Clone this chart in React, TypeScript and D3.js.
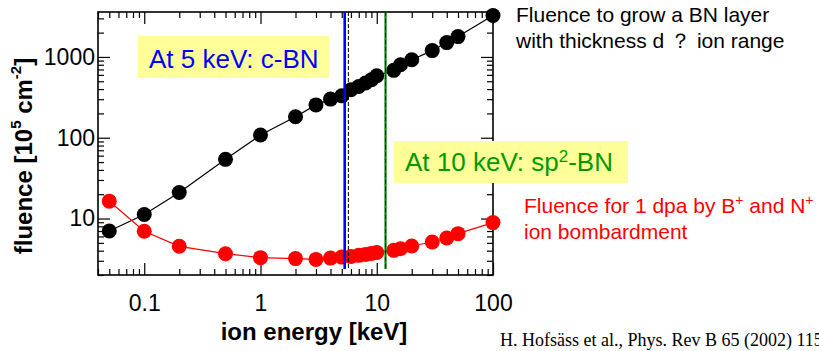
import React, { useEffect, useRef } from 'react';
import * as d3 from 'd3';

// ion energy [keV] of each calculated point
const energies = [0.05, 0.1, 0.2, 0.5, 1, 2, 3, 4, 5, 6, 7, 8, 9, 10, 14, 16, 20, 30, 40, 50, 100];
// fluence needed to grow a layer as thick as the ion range
const growFluence = [7.0, 11.2, 21.0, 54, 108, 182, 255, 301, 330, 393, 431, 475, 522, 586, 682, 802, 925, 1198, 1506, 1786, 3256];
// fluence for 1 dpa
const dpaFluence = [16.4, 6.95, 4.53, 3.67, 3.28, 3.19, 3.12, 3.24, 3.33, 3.4, 3.5, 3.6, 3.7, 3.8, 4.04, 4.24, 4.57, 5.12, 5.74, 6.5, 8.9];

const xMajorTicks = [0.1, 1, 10, 100];
const yMajorTicks = [10, 100, 1000];
const xDomain = [0.04, 100];
const yDomain = [2, 3600];

// vertical marker lines (keV)
const cbnEnergy = 5.3;
const cbnDashed = 5.7;
const spEnergy = 11.9;

const SANS = 'Liberation Sans, Arial, sans-serif';

const Chart = () => {
  const ref = useRef<SVGSVGElement>(null);

  useEffect(() => {
    const margin = { top: 12, left: 98 };
    const w = 395;
    const h = 263;

    const svg = d3.select(ref.current);
    svg.selectAll('*').remove();
    const g = svg.append('g').attr('transform', `translate(${margin.left},${margin.top})`);

    const x = d3.scaleLog().domain(xDomain).range([0, w]);
    const y = d3.scaleLog().domain(yDomain).range([h, 0]);

    const xMinor = x.ticks().filter(t => !xMajorTicks.includes(t));
    const yMinor = y.ticks().filter(t => !yMajorTicks.includes(t));

    const clean = (sel: any) => {
      sel.select('.domain').remove();
      sel.selectAll('line').attr('stroke', '#000').attr('stroke-width', 1.2);
      sel.selectAll('text')
        .attr('font-family', SANS)
        .attr('font-size', 23)
        .attr('fill', '#000');
    };
    const noLabel = () => '';

    // bottom
    g.append('g').attr('transform', `translate(0,${h})`)
      .call(d3.axisBottom(x).tickValues(xMinor).tickSize(-6).tickFormat(noLabel)).call(clean);
    g.append('g').attr('transform', `translate(0,${h})`)
      .call(d3.axisBottom(x).tickValues(xMajorTicks).tickSize(-12).tickPadding(20).tickFormat(d3.format('~g')))
      .call(clean);
    // top
    g.append('g').call(d3.axisTop(x).tickValues(xMinor).tickSize(-6).tickFormat(noLabel)).call(clean);
    g.append('g').call(d3.axisTop(x).tickValues(xMajorTicks).tickSize(-12).tickFormat(noLabel)).call(clean);
    // left
    g.append('g').call(d3.axisLeft(y).tickValues(yMinor).tickSize(-6).tickFormat(noLabel)).call(clean);
    g.append('g')
      .call(d3.axisLeft(y).tickValues(yMajorTicks).tickSize(-12).tickPadding(3).tickFormat(d3.format('~g')))
      .call(clean);
    // right
    g.append('g').attr('transform', `translate(${w},0)`)
      .call(d3.axisRight(y).tickValues(yMinor).tickSize(-6).tickFormat(noLabel)).call(clean);
    g.append('g').attr('transform', `translate(${w},0)`)
      .call(d3.axisRight(y).tickValues(yMajorTicks).tickSize(-12).tickFormat(noLabel)).call(clean);

    g.append('rect')
      .attr('width', w).attr('height', h)
      .attr('fill', 'none').attr('stroke', '#000').attr('stroke-width', 1.6);

    // series
    const series = [
      { values: growFluence, color: '#000' },
      { values: dpaFluence, color: '#ff0000' },
    ];
    series.forEach(s => {
      const pts = energies.map((e, i) => [e, s.values[i]] as [number, number]);
      g.append('path')
        .datum(pts)
        .attr('d', d3.line().x(d => x(d[0])).y(d => y(d[1])))
        .attr('fill', 'none')
        .attr('stroke', s.color)
        .attr('stroke-width', 1.2);
      g.selectAll(null)
        .data(pts)
        .enter().append('circle')
        .attr('cx', d => x(d[0]))
        .attr('cy', d => y(d[1]))
        .attr('r', 7.5)
        .attr('fill', s.color);
    });

    // vertical marker lines
    const lineBottom = h - 6;
    g.append('line')
      .attr('x1', x(cbnEnergy)).attr('x2', x(cbnEnergy))
      .attr('y1', 0).attr('y2', lineBottom)
      .attr('stroke', '#0000ff').attr('stroke-width', 2.6);
    g.append('line')
      .attr('x1', x(cbnDashed)).attr('x2', x(cbnDashed))
      .attr('y1', 0).attr('y2', lineBottom)
      .attr('stroke', '#000').attr('stroke-width', 1).attr('stroke-dasharray', '4,2');
    g.append('line')
      .attr('x1', x(spEnergy)).attr('x2', x(spEnergy))
      .attr('y1', 0).attr('y2', lineBottom)
      .attr('stroke', '#008000').attr('stroke-width', 2.2);
    g.append('line')
      .attr('x1', x(spEnergy)).attr('x2', x(spEnergy))
      .attr('y1', 0).attr('y2', lineBottom)
      .attr('stroke', '#003300').attr('stroke-width', 1).attr('stroke-dasharray', '4,3');
  }, []);

  return (
    <svg
      ref={ref}
      width={819}
      height={351}
      style={{ position: 'absolute', left: 0, top: 0, background: '#fff' }}
    />
  );
};

const Overlay = () => (
  <svg width={819} height={351} style={{ position: 'absolute', left: 0, top: 0, pointerEvents: 'none' }}>
    {/* highlighted labels */}
    <rect x={138} y={36} width={191} height={42} fill="#ffff99" />
    <text x={149} y={68} fontFamily={SANS} fontSize={26} fill="#0000ff">At 5 keV: c-BN</text>
    <rect x={394} y={141} width={234} height={42} fill="#ffff99" />
    <text x={405} y={171} fontFamily={SANS} fontSize={26} fill="#009900">
      At 10 keV: sp<tspan fontSize={17} dy={-9}>2</tspan><tspan dy={9}>-BN</tspan>
    </text>

    <text fontFamily={SANS} fontSize={21} fill="#000">
      <tspan x={516} y={22}>Fluence to grow a BN layer</tspan>
      <tspan x={516} y={48}>with thickness d ？ ion range</tspan>
    </text>
    <text fontFamily={SANS} fontSize={21} fill="#ff0000">
      <tspan x={524} y={213}>Fluence for 1 dpa by B</tspan>
      <tspan fontSize={14} dy={-8}>+</tspan>
      <tspan dy={8}> and N</tspan>
      <tspan fontSize={14} dy={-8}>+</tspan>
      <tspan x={524} y={239}>ion bombardment</tspan>
    </text>

    {/* axis titles */}
    <text x={314} y={340} textAnchor="middle" fontFamily={SANS} fontSize={24} fontWeight="bold">
      ion energy [keV]
    </text>
    <text
      transform="translate(32,156) rotate(-90)"
      textAnchor="middle"
      fontFamily={SANS}
      fontSize={24}
      fontWeight="bold"
    >
      fluence [10<tspan fontSize={15} dy={-11}>5</tspan><tspan dy={11}> cm</tspan>
      <tspan fontSize={15} dy={-11}>-2</tspan><tspan dy={11}>]</tspan>
    </text>

    <text x={500} y={346} fontFamily="Liberation Serif, Times New Roman, serif" fontSize={18} fill="#000">
      H. Hofsäss et al., Phys. Rev B 65 (2002) 115410
    </text>
  </svg>
);

const App = () => (
  <div style={{ position: 'absolute', left: 0, top: 0, width: 819, height: 351, overflow: 'hidden' }}>
    <Chart />
    <Overlay />
  </div>
);

export default App;
